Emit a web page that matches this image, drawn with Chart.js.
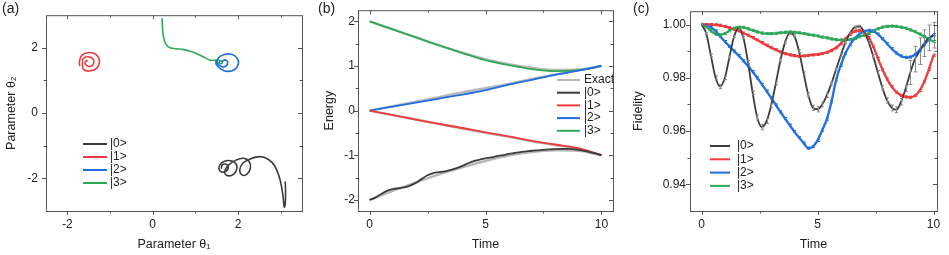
<!DOCTYPE html>
<html>
<head>
<meta charset="utf-8">
<script src="https://cdn.jsdelivr.net/npm/chart.js@4.4.0/dist/chart.umd.min.js"></script>
<style>
  body { margin: 0; background: #fff; width: 949px; height: 255px; overflow: hidden; position: relative;
         font-family: "Liberation Sans", Arial, sans-serif; }
  canvas { position: absolute; top: 0; }
  .tag { position: absolute; top: 0; font-size: 14px; color: #222; }
</style>
</head>
<body>
<canvas id="chart-a" width="312" height="255" style="left:0"></canvas>
<canvas id="chart-b" width="312" height="255" style="left:312px"></canvas>
<canvas id="chart-c" width="325" height="255" style="left:624px"></canvas>
<div class="tag" style="left:2px">(a)</div>
<div class="tag" style="left:318px">(b)</div>
<div class="tag" style="left:633px">(c)</div>

<script>
// =========
// Data
// =========

//  Panel (a): parameter trajectories (theta1, theta2)
//  --------------------------------------------------
const path0X = [1.609, 1.632, 1.726, 1.773, 1.726, 1.616, 1.554, 1.609, 1.765, 1.922, 1.977, 1.899, 1.765, 1.687,
  1.765, 1.962, 2.134, 2.260, 2.291, 2.212, 2.103, 2.040, 2.118, 2.275, 2.511, 2.707, 2.864, 2.981, 3.052, 3.083,
  3.107, 3.115, 3.107];
const path0Y = [-1.706, -1.589, -1.570, -1.667, -1.774, -1.804, -1.687, -1.531, -1.453, -1.511, -1.677, -1.872,
  -1.921, -1.823, -1.609, -1.433, -1.384, -1.482, -1.677, -1.872, -1.901, -1.745, -1.531, -1.414, -1.335, -1.414,
  -1.628, -2.018, -2.506, -2.877, -2.799, -2.409, -2.096];
const path1X = [-1.709, -1.717, -1.662, -1.505, -1.333, -1.247, -1.309, -1.489, -1.623, -1.646, -1.631, -1.521,
  -1.403, -1.380, -1.450, -1.552, -1.584, -1.521];
const path1Y = [1.435, 1.591, 1.767, 1.855, 1.796, 1.591, 1.376, 1.288, 1.347, 1.493, 1.669, 1.728, 1.669, 1.532,
  1.435, 1.454, 1.562, 1.620];
const path2X = [1.616, 1.695, 1.758, 1.711, 1.601, 1.515, 1.538, 1.664, 1.844, 1.977, 2.009, 1.915, 1.742, 1.593,
  1.491, 1.483];
const path2Y = [1.572, 1.630, 1.552, 1.435, 1.435, 1.543, 1.689, 1.786, 1.806, 1.689, 1.513, 1.328, 1.279, 1.357,
  1.494, 1.640];
const path3X = [0.220, 0.228, 0.244, 0.275, 0.330, 0.408, 0.549, 0.706, 0.864, 1.060, 1.216, 1.334, 1.452, 1.554,
  1.616, 1.632, 1.593, 1.554, 1.585];
const path3Y = [2.908, 2.664, 2.420, 2.225, 2.079, 2.001, 1.972, 1.952, 1.903, 1.806, 1.708, 1.630, 1.620, 1.620,
  1.591, 1.543, 1.513, 1.552, 1.611];

//  Panel (b): energies
//  -------------------
const energyTime = [0, 1, 2, 3, 4, 5, 6, 7, 8, 9, 10];
const exact0 = [-2.0, -1.8, -1.61, -1.43, -1.27, -1.13, -1.01, -0.93, -0.89, -0.9, -1.0];
const exact1 = [0, -0.1, -0.2, -0.3, -0.4, -0.5, -0.59, -0.69, -0.77, -0.86, -1.0];
const exact2 = [0, 0.1, 0.2, 0.3, 0.41, 0.5, 0.6, 0.71, 0.81, 0.9, 1.0];
const exact3 = [2.0, 1.82, 1.64, 1.46, 1.3, 1.15, 1.04, 0.96, 0.91, 0.92, 1.0];
const energy1 = [0, -0.1, -0.2, -0.3, -0.39, -0.49, -0.58, -0.68, -0.76, -0.84, -1.0];
const energy2 = [0, 0.09, 0.18, 0.27, 0.36, 0.46, 0.58, 0.69, 0.8, 0.895, 1.0];
const energy3 = [2.0, 1.82, 1.64, 1.46, 1.29, 1.13, 1.02, 0.93, 0.885, 0.905, 1.0];
const energy0Time = [0, 0.25, 0.5, 0.75, 1, 1.25, 1.5, 1.75, 2, 2.25, 2.5, 2.75, 3, 3.25, 3.5, 3.75, 4, 4.25, 4.5,
  4.75, 5, 5.25, 5.5, 5.75, 6, 6.25, 6.5, 6.75, 7, 7.25, 7.5, 7.75, 8, 8.25, 8.5, 8.75, 9, 9.25, 9.5, 9.75, 10];
const energy0 = [-2.0, -1.95, -1.87, -1.8, -1.76, -1.74, -1.72, -1.68, -1.62, -1.53, -1.45, -1.4, -1.38, -1.36,
  -1.33, -1.29, -1.24, -1.18, -1.13, -1.1, -1.07, -1.05, -1.02, -1.0, -0.97, -0.95, -0.93, -0.915, -0.9, -0.89,
  -0.88, -0.87, -0.865, -0.86, -0.858, -0.865, -0.88, -0.9, -0.93, -0.96, -1.0];

//  Panel (c): fidelities
//  ---------------------
const fidTime = [0, 0.2, 0.4, 0.6, 0.8, 1, 1.2, 1.4, 1.6, 1.8, 2, 2.2, 2.4, 2.6, 2.8, 3, 3.2, 3.4, 3.6, 3.8, 4,
  4.2, 4.4, 4.6, 4.8, 5, 5.2, 5.4, 5.6, 5.8, 6, 6.2, 6.4, 6.6, 6.8, 7, 7.2, 7.4, 7.6, 7.8, 8, 8.2, 8.4, 8.6, 8.8,
  9, 9.2, 9.4, 9.6, 9.8, 10];
const fid0 = [1.0, 0.9966, 0.9884, 0.9801, 0.9767, 0.9799, 0.9877, 0.9955, 0.9987, 0.9951, 0.9859, 0.9744, 0.9651,
  0.9615, 0.9637, 0.9696, 0.9779, 0.9866, 0.9934, 0.9968, 0.9957, 0.99, 0.9816, 0.9736, 0.9687, 0.9682, 0.970,
  0.9734, 0.9779, 0.9832, 0.9884, 0.9932, 0.9968, 0.999, 0.9993, 0.9974, 0.9935, 0.9881, 0.982, 0.9762, 0.9715,
  0.9687, 0.968, 0.971, 0.976, 0.982, 0.987, 0.990, 0.993, 0.995, 0.996];
const fid0Err = [0, 0.0004, 0.0005, 0.0006, 0.0008, 0.0006, 0.0005, 0.0004, 0.0004, 0.0005, 0.0006, 0.0007, 0.0009,
  0.001, 0.0009, 0.0007, 0.0006, 0.0005, 0.0004, 0.0004, 0.0004, 0.0005, 0.0006, 0.0008, 0.001, 0.001, 0.0009,
  0.0008, 0.0006, 0.0005, 0.0005, 0.0004, 0.0004, 0.0004, 0.0004, 0.0004, 0.0005, 0.0006, 0.0007, 0.0008, 0.001,
  0.0011, 0.0011, 0.0012, 0.0012, 0.0045, 0.0048, 0.005, 0.005, 0.0048, 0.0048];
const fid1 = [1.0, 1.0, 1.0, 0.9999, 0.9997, 0.9993, 0.9988, 0.9982, 0.9976, 0.9968, 0.996, 0.9951, 0.9942, 0.9932,
  0.9922, 0.9913, 0.9905, 0.9897, 0.9891, 0.9886, 0.9883, 0.9881, 0.9882, 0.9884, 0.9886, 0.9888, 0.9891, 0.9896,
  0.9903, 0.9913, 0.9928, 0.9946, 0.9963, 0.9975, 0.9978, 0.9972, 0.9952, 0.9918, 0.9873, 0.9831, 0.9795, 0.9766,
  0.9746, 0.9734, 0.9728, 0.9727, 0.9733, 0.9752, 0.9785, 0.9832, 0.9885];
const fid2 = [1.0, 0.9997, 0.999, 0.9976, 0.9956, 0.9936, 0.9918, 0.99, 0.9883, 0.9864, 0.9844, 0.9823, 0.98,
  0.9775, 0.975, 0.9724, 0.9698, 0.9672, 0.9647, 0.9622, 0.9598, 0.9576, 0.9555, 0.9536, 0.9542, 0.9565, 0.9603,
  0.9645, 0.971, 0.9792, 0.9847, 0.9891, 0.9924, 0.9948, 0.9964, 0.9974, 0.9978, 0.9975, 0.9964, 0.9947, 0.9928,
  0.9909, 0.9893, 0.9882, 0.9877, 0.9878, 0.9887, 0.9904, 0.9924, 0.9944, 0.9962];
const fid3 = [1.0, 0.9991, 0.9976, 0.9964, 0.9961, 0.9966, 0.9977, 0.9986, 0.999, 0.9989, 0.9984, 0.9978, 0.9972,
  0.9968, 0.9966, 0.9966, 0.9967, 0.9969, 0.9971, 0.9972, 0.9971, 0.9969, 0.9966, 0.9963, 0.996, 0.9957, 0.9953,
  0.995, 0.9946, 0.9943, 0.9942, 0.9942, 0.9944, 0.9948, 0.9954, 0.996, 0.9967, 0.9976, 0.9984, 0.999, 0.9993,
  0.9994, 0.9993, 0.999, 0.9986, 0.998, 0.9973, 0.9964, 0.9955, 0.9945, 0.9936];
const fidSmallErr = 0.0004;

//  Labels and ticks
//  ----------------
const stateLabels = ['|0>', '|1>', '|2>', '|3>'];
const aTicksX = [-2, 0, 2];
const aMinorX = [-1, 1, 3];
const aTicksY = [-2, 0, 2];
const aMinorY = [-1, 1];
const bTicksX = [0, 5, 10];
const bMinorX = [2.5, 7.5];
const bTicksY = [-2, -1, 0, 1, 2];
const bMinorY = [-1.5, -0.5, 0.5, 1.5];
const cTicksX = [0, 5, 10];
const cMinorX = [2.5, 7.5];
const cTicksY = [0.94, 0.96, 0.98, 1.00];
const cMinorY = [0.95, 0.97, 0.99];


// =======
// Styling
// =======
const FONT = '"Liberation Sans", Arial, sans-serif';
const TEXT = '#222';
const colors = ['#3c3c3c', '#f03a3c', '#1f6fe0', '#2eaa57'];
const exactColor = '#b8b8b8';

const toPoints = (xs, ys) => xs.map((x, i) => ({x: x, y: ys[i]}));

function makeAxis(o) {
  return {
    type: 'linear',
    min: o.min,
    max: o.max,
    grid: {display: false, drawTicks: false},
    border: {display: false},
    afterBuildTicks: (s) => { s.ticks = o.major.map(v => ({value: v})); },
    afterFit: (s) => {
      if (o.width) s.width = o.width;
      if (o.height) s.height = o.height;
    },
    ticks: {
      padding: o.pad,
      maxRotation: 0,
      color: TEXT,
      font: {family: FONT, size: 12},
      callback: o.fmt || (v => String(v)),
    },
    title: {
      display: true,
      text: o.title,
      color: TEXT,
      font: {family: FONT, size: 12.5},
      padding: o.titlePad,
    },
  };
}

//  Box frame with outward ticks (left/bottom) and inward ticks (top/right)
const framePlugin = {
  id: 'frame',
  afterDraw(chart, args, opts) {
    const {ctx, chartArea: a} = chart;
    const xs = chart.scales.x, ys = chart.scales.y;
    ctx.save();
    ctx.strokeStyle = '#555';
    ctx.lineWidth = 1;
    ctx.strokeRect(a.left + 0.5, a.top + 0.5, a.right - a.left, a.bottom - a.top);
    ctx.beginPath();
    const xMark = (v, len) => {
      const px = Math.round(xs.getPixelForValue(v)) + 0.5;
      ctx.moveTo(px, a.bottom); ctx.lineTo(px, a.bottom + len);
      ctx.moveTo(px, a.top); ctx.lineTo(px, a.top + len);
    };
    const yMark = (v, len) => {
      const py = Math.round(ys.getPixelForValue(v)) + 0.5;
      ctx.moveTo(a.left, py); ctx.lineTo(a.left - len, py);
      ctx.moveTo(a.right, py); ctx.lineTo(a.right - len, py);
    };
    opts.xMajor.forEach(v => xMark(v, 4));
    opts.xMinor.forEach(v => xMark(v, 2.5));
    opts.yMajor.forEach(v => yMark(v, 4));
    opts.yMinor.forEach(v => yMark(v, 2.5));
    ctx.stroke();
    ctx.restore();
  },
};

//  Legend drawn inside the plot area
const insideLegend = {
  id: 'insideLegend',
  afterDraw(chart, args, opts) {
    const ctx = chart.ctx;
    ctx.save();
    ctx.font = '12px ' + FONT;
    ctx.textBaseline = 'middle';
    ctx.fillStyle = TEXT;
    let y = opts.y;
    chart.data.datasets.filter(d => d.label).forEach(d => {
      ctx.strokeStyle = d.borderColor;
      ctx.lineWidth = 2;
      ctx.beginPath();
      ctx.moveTo(opts.x, y);
      ctx.lineTo(opts.x + opts.len, y);
      ctx.stroke();
      ctx.fillText(d.label, opts.x + opts.len + opts.gap, y);
      y += opts.step;
    });
    ctx.restore();
  },
};

//  Error bars for the fidelity panel
const errorBarPlugin = {
  id: 'errorBars',
  afterDatasetsDraw(chart) {
    const {ctx} = chart;
    const xs = chart.scales.x, ys = chart.scales.y;
    ctx.save();
    ctx.lineWidth = 1;
    chart.data.datasets.forEach(ds => {
      if (ds.errors === undefined) return;
      ctx.strokeStyle = ds.errorColor;
      ctx.beginPath();
      ds.data.forEach((p, j) => {
        const e = Array.isArray(ds.errors) ? ds.errors[j] : ds.errors;
        if (!e) return;
        const px = Math.round(xs.getPixelForValue(p.x)) + 0.5;
        const top = ys.getPixelForValue(p.y + e);
        const bot = ys.getPixelForValue(p.y - e);
        const w = e > 0.002 ? 2 : 1.5;
        ctx.moveTo(px, top); ctx.lineTo(px, bot);
        ctx.moveTo(px - w, top); ctx.lineTo(px + w, top);
        ctx.moveTo(px - w, bot); ctx.lineTo(px + w, bot);
      });
      ctx.stroke();
    });
    ctx.restore();
  },
};


// =========
// Panel (a)
// =========
const pathsX = [path0X, path1X, path2X, path3X];
const pathsY = [path0Y, path1Y, path2Y, path3Y];

new Chart(document.getElementById('chart-a'), {
  type: 'scatter',
  data: {
    datasets: pathsX.map((xs, i) => ({
      label: stateLabels[i],
      data: toPoints(xs, pathsY[i]),
      showLine: true,
      borderColor: colors[i],
      borderWidth: 1.6,
      pointRadius: 0,
      tension: 0.35,
    })),
  },
  options: {
    responsive: false,
    animation: false,
    layout: {padding: {top: 5, right: 10, left: 0, bottom: 0}},
    scales: {
      x: makeAxis({min: -2.5, max: 3.5, major: aTicksX, title: 'Parameter θ₁', height: 44, pad: 6,
                   titlePad: {top: 0, bottom: 3}}),
      y: makeAxis({min: -3, max: 3, major: aTicksY, title: 'Parameter θ₂', width: 46, pad: 8,
                   titlePad: {top: 4, bottom: 0}}),
    },
    plugins: {
      legend: {display: false},
      tooltip: {enabled: false},
      frame: {xMajor: aTicksX, xMinor: aMinorX, yMajor: aTicksY, yMinor: aMinorY},
      insideLegend: {x: 83, y: 144, len: 24, gap: 3, step: 13},
    },
  },
  plugins: [framePlugin, insideLegend],
});


// =========
// Panel (b)
// =========
const exactSets = [exact0, exact1, exact2, exact3].map((vals, i) => ({
  label: i === 0 ? 'Exact' : '',
  data: toPoints(energyTime, vals),
  borderColor: exactColor,
  borderWidth: 2.4,
  pointRadius: 0,
  cubicInterpolationMode: 'monotone',
  order: 5,
}));

const measuredSets = [
  toPoints(energy0Time, energy0),
  toPoints(energyTime, energy1),
  toPoints(energyTime, energy2),
  toPoints(energyTime, energy3),
].map((pts, i) => ({
  label: stateLabels[i],
  data: pts,
  borderColor: colors[i],
  borderWidth: 1.8,
  pointRadius: 0,
  cubicInterpolationMode: 'monotone',
  order: 1,
}));

new Chart(document.getElementById('chart-b'), {
  type: 'line',
  data: {datasets: exactSets.concat(measuredSets)},
  options: {
    responsive: false,
    animation: false,
    layout: {padding: {top: 5, right: 11, left: 0, bottom: 0}},
    scales: {
      x: makeAxis({min: -0.5, max: 10.5, major: bTicksX, title: 'Time', height: 44, pad: 6,
                   titlePad: {top: 0, bottom: 3}}),
      y: makeAxis({min: -2.25, max: 2.25, major: bTicksY, title: 'Energy', width: 46, pad: 3,
                   titlePad: {top: 10, bottom: 0}}),
    },
    plugins: {
      legend: {display: false},
      tooltip: {enabled: false},
      frame: {xMajor: bTicksX, xMinor: bMinorX, yMajor: bTicksY, yMinor: bMinorY},
      insideLegend: {x: 245, y: 80, len: 23, gap: 4, step: 12.7},
    },
  },
  plugins: [framePlugin, insideLegend],
});


// =========
// Panel (c)
// =========
const fidSeries = [fid0, fid1, fid2, fid3];
const fidErrors = [fid0Err, fidSmallErr, fidSmallErr, fidSmallErr];

new Chart(document.getElementById('chart-c'), {
  type: 'line',
  data: {
    datasets: fidSeries.map((vals, i) => ({
      label: stateLabels[i],
      data: toPoints(fidTime, vals),
      borderColor: colors[i],
      borderWidth: i === 0 ? 1.8 : 2.3,
      pointRadius: 0,
      cubicInterpolationMode: 'monotone',
      errors: fidErrors[i],
      errorColor: i === 0 ? '#8a8a8a' : colors[i],
    })),
  },
  options: {
    responsive: false,
    animation: false,
    layout: {padding: {top: 5, right: 12, left: 0, bottom: 0}},
    scales: {
      x: makeAxis({min: -0.5, max: 10.15, major: cTicksX, title: 'Time', height: 44, pad: 6,
                   titlePad: {top: 0, bottom: 3}}),
      y: makeAxis({min: 0.93, max: 1.005, major: cTicksY, title: 'Fidelity', width: 66, pad: 4,
                   titlePad: {top: 7, bottom: 0}, fmt: v => v.toFixed(2)}),
    },
    plugins: {
      legend: {display: false},
      tooltip: {enabled: false},
      frame: {xMajor: cTicksX, xMinor: cMinorX, yMajor: cTicksY, yMinor: cMinorY},
      insideLegend: {x: 86, y: 146, len: 20, gap: 7, step: 13.3},
    },
  },
  plugins: [framePlugin, insideLegend, errorBarPlugin],
});
</script>
</body>
</html>
